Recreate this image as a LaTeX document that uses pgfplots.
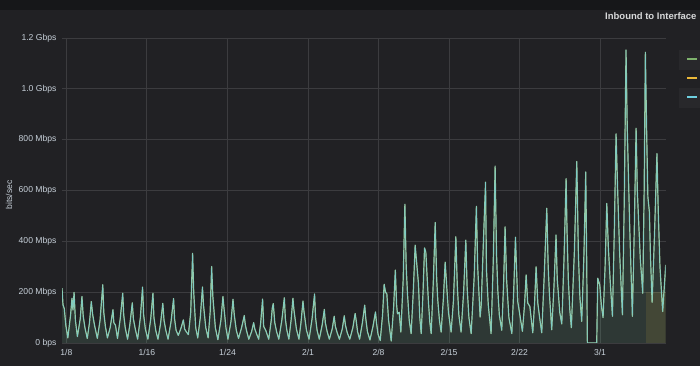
\documentclass[border=0pt]{standalone}
\usepackage{pgfplots}
\pgfplotsset{compat=1.18}
\usepackage{pgfplotstable}
\usepackage{fontspec}
\setmainfont{Liberation Sans}
\definecolor{pagebg}{HTML}{161719}
\definecolor{panelbg}{HTML}{212124}
\definecolor{legbg}{HTML}{28282B}
\definecolor{gridc}{HTML}{3C3C3F}
\definecolor{txt}{HTML}{C7D0D9}
\definecolor{titletxt}{HTML}{D8D9DA}
\definecolor{gfgreen}{HTML}{7EB26D}
\definecolor{gfyellow}{HTML}{EAB839}
\definecolor{gfblue}{HTML}{6ED0E0}

% x = days since 1/8, y = Mbps
\pgfplotstableread[row sep=\\]{
x y\\
-0.43 216\\ -0.33 150\\ -0.2 135\\ -0.05 70\\
0.15 20\\ 0.42 110\\ 0.56 176\\ 0.66 130\\ 0.77 199\\ 0.9 90\\
1.1 25\\ 1.38 95\\ 1.55 183\\ 1.68 105\\ 1.85 60\\
2.08 18\\ 2.3 80\\ 2.48 163\\ 2.62 111\\ 2.8 70\\
3.08 18\\ 3.35 90\\ 3.62 229\\ 3.72 120\\ 3.88 65\\
4.08 20\\ 4.35 60\\ 4.63 131\\ 4.72 80\\ 4.88 70\\
5.08 18\\ 5.35 95\\ 5.6 196\\ 5.7 110\\ 5.85 60\\
6.08 15\\ 6.3 70\\ 6.55 158\\ 6.66 95\\ 6.85 55\\
7.08 15\\ 7.35 100\\ 7.57 220\\ 7.68 110\\ 7.85 55\\
8.1 15\\ 8.38 95\\ 8.6 196\\ 8.7 100\\ 8.88 50\\
9.1 15\\ 9.35 75\\ 9.58 156\\ 9.7 90\\ 9.88 50\\
10.1 15\\ 10.4 85\\ 10.65 175\\ 10.75 95\\ 10.9 50\\
11.12 30\\ 11.4 60\\ 11.62 91\\ 11.75 55\\ 11.9 45\\
12.12 33\\ 12.35 120\\ 12.54 353\\ 12.65 200\\ 12.85 60\\
13.05 20\\ 13.3 100\\ 13.52 220\\ 13.62 150\\ 13.85 60\\
14.08 20\\ 14.28 120\\ 14.43 301\\ 14.55 183\\ 14.8 60\\
15.05 13\\ 15.35 90\\ 15.55 183\\ 15.65 140\\ 15.85 60\\
16.05 15\\ 16.35 85\\ 16.55 172\\ 16.68 110\\ 16.88 50\\
17.1 18\\ 17.4 60\\ 17.67 108\\ 17.78 70\\ 17.92 45\\
18.12 15\\ 18.4 45\\ 18.6 80\\ 18.72 55\\ 18.9 35\\
19.1 15\\ 19.3 80\\ 19.49 173\\ 19.6 65\\ 19.8 50\\
20.1 15\\ 20.35 90\\ 20.45 137\\ 20.55 155\\ 20.7 80\\ 20.88 45\\
21.1 15\\ 21.4 90\\ 21.65 178\\ 21.75 95\\ 21.9 50\\
22.1 15\\ 22.32 90\\ 22.5 176\\ 22.6 131\\ 22.85 55\\
23.1 15\\ 23.3 80\\ 23.5 165\\ 23.6 124\\ 23.85 50\\
24.1 15\\ 24.4 95\\ 24.65 193\\ 24.75 100\\ 24.9 50\\
25.12 15\\ 25.4 70\\ 25.62 132\\ 25.72 80\\ 25.9 45\\
26.12 15\\ 26.4 55\\ 26.6 105\\ 26.72 65\\ 26.9 40\\
27.12 15\\ 27.4 55\\ 27.6 107\\ 27.72 70\\ 27.9 40\\
28.15 15\\ 28.45 60\\ 28.68 116\\ 28.78 90\\ 28.92 45\\
29.12 15\\ 29.4 80\\ 29.63 149\\ 29.74 95\\ 29.9 45\\
30.15 12\\ 30.45 65\\ 30.7 122\\ 30.8 80\\ 30.95 35\\
31.17 10\\ 31.4 110\\ 31.56 231\\ 31.7 200\\ 31.83 193\\ 32.0 90\\
32.26 8\\ 32.5 140\\ 32.67 287\\ 32.8 150\\ 32.88 115\\ 33.05 121\\
33.22 43\\ 33.45 250\\ 33.62 546\\ 33.75 300\\ 33.88 193\\ 34.05 90\\
34.24 37\\ 34.45 200\\ 34.64 385\\ 34.8 311\\ 34.97 233\\ 35.1 100\\
35.24 37\\ 35.42 200\\ 35.57 374\\ 35.7 357\\ 35.96 161\\ 36.1 80\\
36.23 37\\ 36.45 250\\ 36.63 474\\ 36.78 250\\ 36.89 167\\ 37.05 90\\
37.22 43\\ 37.45 180\\ 37.62 318\\ 37.78 220\\ 37.95 120\\
38.21 43\\ 38.44 167\\ 38.68 418\\ 38.82 230\\ 38.98 110\\
39.2 43\\ 39.45 200\\ 39.67 405\\ 39.8 220\\ 39.98 100\\
40.2 37\\ 40.5 260\\ 40.72 538\\ 40.85 300\\ 41.09 102\\
41.2 150\\ 41.32 291\\ 41.63 633\\ 41.72 290\\ 41.9 150\\
42.18 37\\ 42.4 330\\ 42.58 696\\ 42.72 350\\ 42.85 206\\ 43.0 110\\
43.24 50\\ 43.42 230\\ 43.57 457\\ 43.72 250\\ 43.95 100\\
44.24 37\\ 44.42 200\\ 44.6 416\\ 44.7 300\\ 44.83 163\\ 45.0 120\\
45.29 46\\ 45.5 150\\ 45.66 268\\ 45.82 157\\ 46.03 144\\
46.32 40\\ 46.5 160\\ 46.65 300\\ 46.82 157\\ 47.0 100\\
47.21 40\\ 47.45 260\\ 47.71 530\\ 47.85 300\\ 47.97 196\\
48.2 52\\ 48.42 220\\ 48.63 425\\ 48.75 250\\ 48.86 196\\ 49.0 120\\
49.2 75\\ 49.42 330\\ 49.63 647\\ 49.72 444\\ 49.85 250\\ 50.0 130\\
50.15 60\\ 50.45 360\\ 50.69 714\\ 50.85 350\\ 51.0 180\\
51.18 85\\ 51.4 350\\ 51.58 673\\ 51.68 300\\ 51.74 0\\
52.67 0\\ 52.77 255\\ 52.97 229\\ 53.14 144\\
53.3 100\\ 53.5 300\\ 53.67 549\\ 53.82 380\\ 54.0 250\\
54.23 105\\ 54.42 450\\ 54.59 823\\ 54.75 600\\ 54.95 350\\
55.22 111\\ 55.4 550\\ 55.58 1153\\ 55.7 850\\ 55.95 450\\
56.21 105\\ 56.4 450\\ 56.58 845\\ 56.7 600\\ 56.8 510\\ 57.0 330\\
57.24 196\\ 57.38 600\\ 57.5 1144\\ 57.64 804\\ 57.75 575\\ 57.9 516\\ 58.0 350\\
58.17 160\\ 58.4 420\\ 58.65 745\\ 58.78 520\\ 58.95 300\\
59.22 124\\ 59.52 307\\
}\traffic

\begin{document}
\begin{tikzpicture}[x=1pt,y=1pt]
\useasboundingbox (0,0) rectangle (700,366);
\fill[panelbg] (0,0) rectangle (700,366);
\fill[pagebg] (0,356) rectangle (700,366);
\node[anchor=base west, inner sep=0pt, text=titletxt, font=\bfseries\fontsize{9.5}{11}\selectfont] at (605,346.5) {Inbound to Interface};
% legend rows (text cut off at the right edge)
\fill[legbg] (679,296) rectangle (702,316);
\fill[legbg] (679,258) rectangle (702,278);
\fill[gfgreen] (687,306.3) rectangle (697,307.8);
\fill[gfyellow] (687,287.3) rectangle (697,288.8);
\fill[gfblue] (687,268.3) rectangle (697,269.8);
\begin{axis}[
  at={(62pt,23pt)}, anchor=south west,
  scale only axis, width=603.7pt, height=305pt,
  xmin=-0.43, xmax=59.52, ymin=0, ymax=1200,
  axis line style={draw=none},
  tick style={draw=none},
  major tick length=0pt,
  xtick={0,8,16,24,31,38,45,53},
  xticklabels={1/8,1/16,1/24,2/1,2/8,2/15,2/22,3/1},
  ytick={0,200,400,600,800,1000,1200},
  yticklabels={0 bps,200 Mbps,400 Mbps,600 Mbps,800 Mbps,1.0 Gbps,1.2 Gbps},
  grid=major,
  grid style={gridc, line width=0.8pt},
  tick label style={font=\fontsize{8.6}{10}\selectfont, text=txt},
  xticklabel style={yshift=-2.5pt},
  yticklabel style={xshift=-2pt},
  ylabel={bits/sec},
  ylabel style={at={(axis description cs:-0.0878,0.485)}, anchor=center, font=\fontsize{8.6}{10}\selectfont, text=txt},
  clip=true,
]
\addplot[draw=none, fill=gfgreen, fill opacity=0.10] table[x=x,y=y] {\traffic} \closedcycle;
\addplot[draw=none, fill=gfyellow, fill opacity=0.12] coordinates {(57.57,200) (59.52,200)} \closedcycle;
\addplot[draw=none, fill=gfblue, fill opacity=0.06] table[x=x,y=y] {\traffic} \closedcycle;
\addplot[gfgreen!75!white, line width=1.2pt, line join=round] table[x=x,y=y] {\traffic};
\addplot[gfblue, line width=0.6pt, line join=round, opacity=0.7] table[x=x,y=y] {\traffic};
\end{axis}
\end{tikzpicture}
\end{document}
